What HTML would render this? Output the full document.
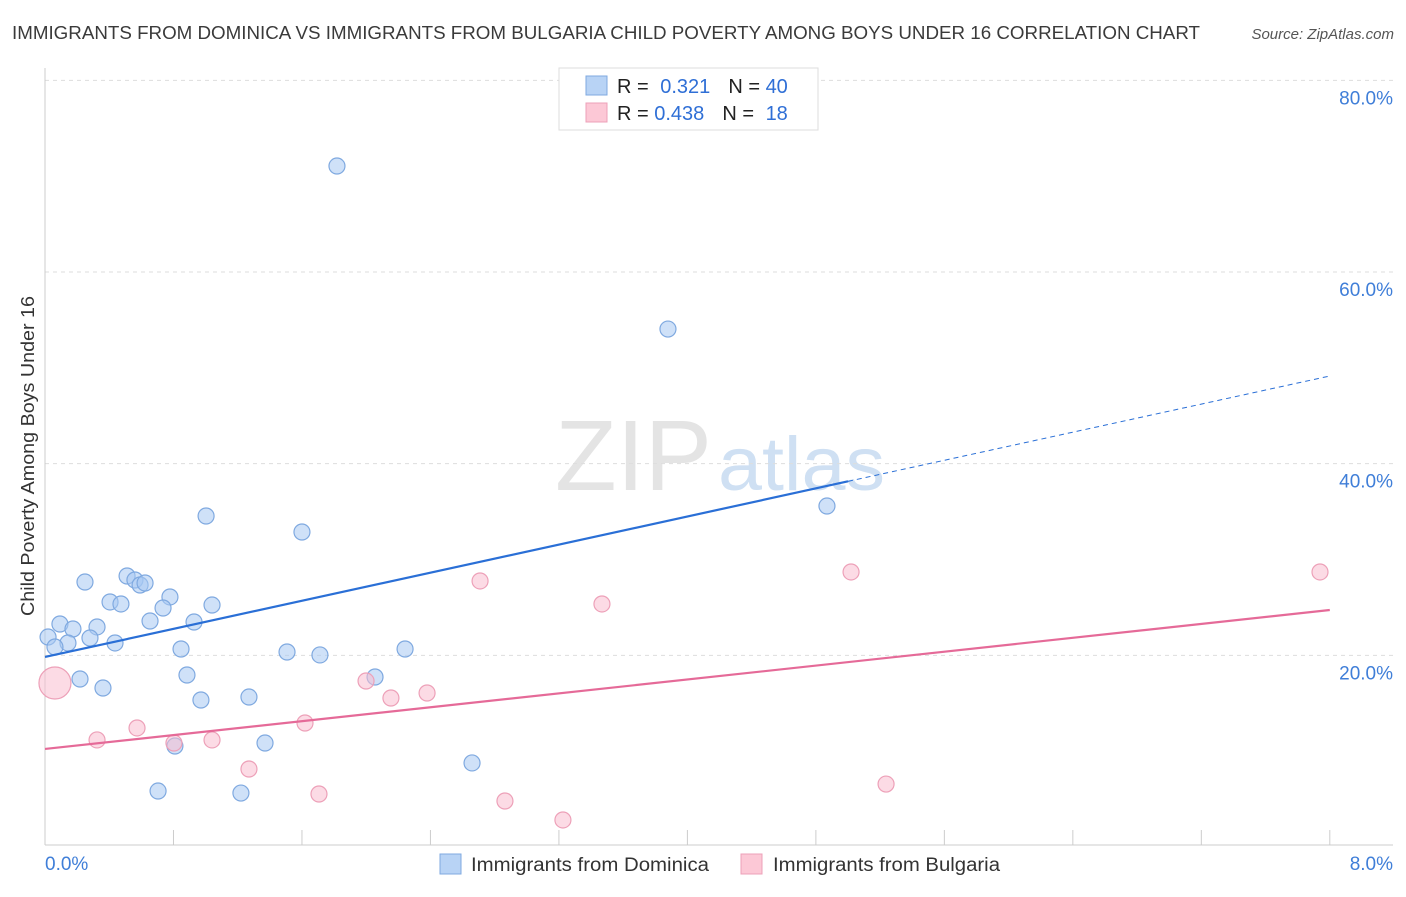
<!DOCTYPE html>
<html><head><meta charset="utf-8"><style>
body{margin:0;background:#fff;font-family:"Liberation Sans",sans-serif;}
svg text{font-family:"Liberation Sans",sans-serif;}
</style></head><body>
<svg id="chart" width="1406" height="892" xmlns="http://www.w3.org/2000/svg">
<text x="12" y="39" font-size="18" fill="#3a3a3a" textLength="1188" lengthAdjust="spacingAndGlyphs">IMMIGRANTS FROM DOMINICA VS IMMIGRANTS FROM BULGARIA CHILD POVERTY AMONG BOYS UNDER 16 CORRELATION CHART</text>
<text x="1394" y="39" font-size="15" fill="#555" text-anchor="end" font-style="italic">Source: ZipAtlas.com</text>
<text x="555" y="490" font-size="100" fill="#e4e4e4" font-family="Liberation Serif" textLength="157" lengthAdjust="spacingAndGlyphs">ZIP</text>
<text x="718" y="490" font-size="76" fill="#cfe0f3" textLength="167" lengthAdjust="spacingAndGlyphs">atlas</text>
<text transform="translate(34,456) rotate(-90)" font-size="18" fill="#333" text-anchor="middle" textLength="320" lengthAdjust="spacingAndGlyphs">Child Poverty Among Boys Under 16</text>
<g id="grid"></g><g id="marks"></g>
<g>
<rect x="559" y="68" width="259" height="62" fill="#fff" stroke="#ddd"/>
<rect x="586" y="76" width="21" height="19" fill="#b8d3f5" stroke="#7fa9e0"/>
<rect x="586" y="103" width="21" height="19" fill="#fcc8d6" stroke="#eda0b8"/>
<text x="617" y="93" font-size="20" fill="#222">R = <tspan fill="#2f6fd6" dx="6">0.321</tspan><tspan dx="18" fill="#222">N = </tspan><tspan fill="#2f6fd6">40</tspan></text>
<text x="617" y="120" font-size="20" fill="#222">R = <tspan fill="#2f6fd6">0.438</tspan><tspan dx="18" fill="#222">N = </tspan><tspan fill="#2f6fd6" dx="6">18</tspan></text>
</g>
<g>
<rect x="440" y="854" width="21" height="20" fill="#b8d3f5" stroke="#7fa9e0"/>
<text x="471" y="871" font-size="19" fill="#333" textLength="238" lengthAdjust="spacingAndGlyphs">Immigrants from Dominica</text>
<rect x="741" y="854" width="21" height="20" fill="#fcc8d6" stroke="#eda0b8"/>
<text x="773" y="871" font-size="19" fill="#333" textLength="227" lengthAdjust="spacingAndGlyphs">Immigrants from Bulgaria</text>
</g>
</svg>
<script>
const yTicks=[20,40,60,80];
const xTickLabels=["0.0%","8.0%"];
const blueX=[1.818,3.879,4.869,1.003,1.600,0.249,0.511,0.560,0.592,0.623,0.405,0.473,0.778,0.735,1.040,0.654,0.928,0.093,0.174,0.324,0.019,0.280,0.143,0.062,0.436,0.847,1.507,1.712,2.242,0.218,0.361,0.884,2.055,0.971,1.270,0.809,1.370,2.659,0.704,1.220];
const blueY=[71.06,54.05,35.58,34.54,32.87,27.65,28.28,27.86,27.34,27.55,25.57,25.36,26.09,24.94,25.25,23.58,23.48,23.27,22.75,22.96,21.91,21.81,21.29,20.87,21.29,20.66,20.35,20.04,20.66,17.53,16.59,17.95,17.74,15.34,15.65,10.54,10.85,8.77,5.84,5.63];
const pinkX=[0.062,0.324,0.573,0.803,1.040,1.270,1.619,1.706,1.999,2.154,2.379,2.709,2.864,3.225,3.468,5.019,5.237,7.939];
const pinkY=[17.11,11.17,12.42,10.85,11.17,8.14,12.94,5.53,17.32,15.55,16.07,27.76,4.80,2.82,25.36,28.70,6.57,28.70];
const blueTrend=[19.83,49.15];
const pinkTrend=[10.23,24.73];
const X=v=>45+v*160.6, Y=v=>847-v*9.583;
const NS="http://www.w3.org/2000/svg";
const grid=document.getElementById('grid'), marks=document.getElementById('marks');
function mk(tag,at,parent){const e=document.createElementNS(NS,tag);for(const k in at)e.setAttribute(k,at[k]);parent.appendChild(e);return e;}
yTicks.forEach(t=>{
 const l=mk('line',{x1:45,x2:1393,y1:Y(t),y2:Y(t),stroke:'#ddd','stroke-dasharray':'4,4'},grid);
 
 
 const tx=mk('text',{x:1393,y:Y(t)+24,'font-size':19,fill:'#3f7ed8','text-anchor':'end'},grid);
 tx.textContent=t.toFixed(1)+'%';
 
 
});
let ax=mk('line',{x1:45,x2:45,y1:68,y2:845,stroke:'#ccc'},grid);


ax=mk('line',{x1:45,x2:1393,y1:845,y2:845,stroke:'#ccc'},grid);


for(let i=0;i<=10;i++){const t=mk('line',{x1:X(i*0.8),x2:X(i*0.8),y1:830,y2:845,stroke:'#ccc'},grid);
 
 }
let xl=mk('text',{x:45,y:870,'font-size':19,fill:'#3f7ed8'},grid);xl.textContent=xTickLabels[0];


xl=mk('text',{x:1393,y:870,'font-size':19,fill:'#3f7ed8','text-anchor':'end'},grid);xl.textContent=xTickLabels[1];


blueX.forEach((x,i)=>{const c=mk('circle',{cx:X(x),cy:Y(blueY[i]),r:8,fill:'rgba(168,200,242,0.55)',stroke:'#7fa9e0','stroke-width':1.2},marks);
 
 });
pinkX.forEach((x,i)=>{const c=mk('circle',{cx:X(x),cy:Y(pinkY[i]),r:i==0?16:8,fill:'rgba(250,190,208,0.55)',stroke:'#eda0b8','stroke-width':1.2},marks);
 
 });
const bAt=x=>blueTrend[0]+(blueTrend[1]-blueTrend[0])*x/8;
let tl=mk('line',{x1:X(0),y1:Y(bAt(0)),x2:X(5),y2:Y(bAt(5)),stroke:'#2a6fd6','stroke-width':2.2},marks);


tl=mk('line',{x1:X(5),y1:Y(bAt(5)),x2:X(8),y2:Y(bAt(8)),stroke:'#2a6fd6','stroke-width':1,'stroke-dasharray':'5,4'},marks);


tl=mk('line',{x1:X(0),y1:Y(pinkTrend[0]),x2:X(8),y2:Y(pinkTrend[1]),stroke:'#e56a98','stroke-width':2.2},marks);


</script>
</body></html>
